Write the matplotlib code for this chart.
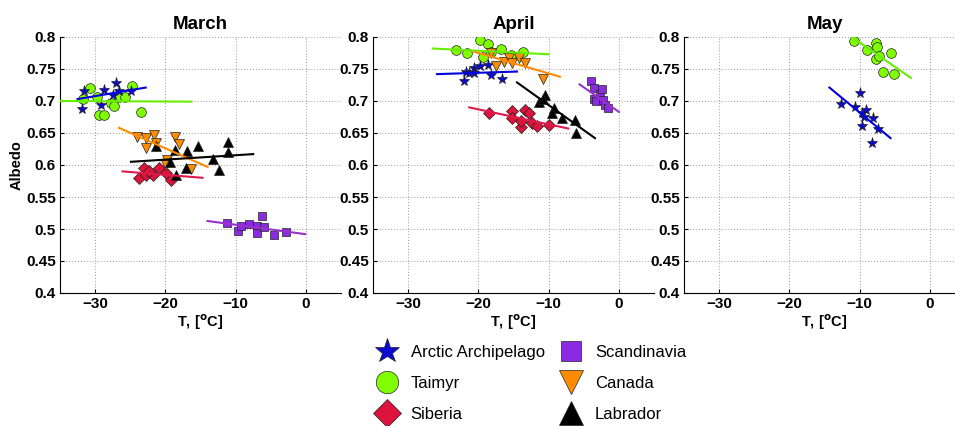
import matplotlib
matplotlib.use("Agg")
import matplotlib.pyplot as plt

plt.rcParams['font.family'] = ['Liberation Sans', 'DejaVu Sans']
plt.rcParams['font.weight'] = 'bold'

# ---- March ----
mar_arctic_t = [-31.8, -31.6, -29.1, -28.7, -27.5, -27.0, -26.6, -24.9]
mar_arctic_a = [0.688, 0.715, 0.694, 0.717, 0.709, 0.728, 0.716, 0.715]
mar_arctic_fit_t = [-32.5, -22.8]
mar_arctic_fit_a = [0.703, 0.721]

mar_taimyr_t = [-31.7, -30.8, -29.8, -29.4, -28.7, -27.8, -27.3, -26.6, -25.7, -24.8, -23.5]
mar_taimyr_a = [0.703, 0.720, 0.707, 0.678, 0.678, 0.697, 0.692, 0.706, 0.707, 0.724, 0.683]
mar_taimyr_fit_t = [-35.0, -16.3]
mar_taimyr_fit_a = [0.700, 0.699]

mar_siberia_t = [-23.7, -23.1, -22.8, -21.8, -20.9, -19.9, -19.2, -22.3]
mar_siberia_a = [0.579, 0.595, 0.584, 0.584, 0.595, 0.587, 0.577, 0.590]
mar_siberia_fit_t = [-26.1, -14.7]
mar_siberia_fit_a = [0.590, 0.580]

mar_scand_t = [-11.2, -9.6, -9.3, -8.1, -7.0, -7.0, -6.3, -6.0, -4.5, -2.9]
mar_scand_a = [0.510, 0.497, 0.504, 0.508, 0.504, 0.493, 0.521, 0.503, 0.490, 0.496]
mar_scand_fit_t = [-14.0, -0.1]
mar_scand_fit_a = [0.5125, 0.492]

mar_canada_t = [-24.0, -22.8, -22.8, -21.6, -21.3, -18.7, -18.0, -19.7, -19.9, -16.3]
mar_canada_a = [0.644, 0.642, 0.626, 0.647, 0.634, 0.644, 0.633, 0.608, 0.600, 0.594]
mar_canada_fit_t = [-26.6, -14.0]
mar_canada_fit_a = [0.658, 0.597]

mar_labrador_t = [-21.4, -18.7, -19.3, -16.9, -15.3, -17.1, -18.5, -13.2, -12.3, -11.1, -11.1]
mar_labrador_a = [0.629, 0.623, 0.604, 0.622, 0.630, 0.595, 0.584, 0.609, 0.592, 0.636, 0.621]
mar_labrador_fit_t = [-24.9, -7.5]
mar_labrador_fit_a = [0.605, 0.617]

# ---- April ----
apr_arctic_t = [-22.1, -21.8, -21.3, -20.6, -20.6, -19.7, -18.6, -18.2, -16.7]
apr_arctic_a = [0.731, 0.746, 0.743, 0.751, 0.743, 0.755, 0.757, 0.741, 0.735]
apr_arctic_fit_t = [-25.9, -14.5]
apr_arctic_fit_a = [0.742, 0.746]

apr_taimyr_t = [-23.2, -21.6, -19.7, -18.7, -19.3, -18.2, -16.8, -15.4, -13.7]
apr_taimyr_a = [0.779, 0.775, 0.796, 0.789, 0.769, 0.776, 0.781, 0.772, 0.777]
apr_taimyr_fit_t = [-26.5, -10.0]
apr_taimyr_fit_a = [0.782, 0.773]

apr_siberia_t = [-18.5, -15.2, -15.2, -13.9, -14.0, -13.3, -12.8, -12.3, -11.6, -10.0]
apr_siberia_a = [0.681, 0.684, 0.673, 0.660, 0.668, 0.686, 0.681, 0.665, 0.661, 0.662]
apr_siberia_fit_t = [-21.3, -7.2]
apr_siberia_fit_a = [0.690, 0.657]

apr_scand_t = [-4.0, -3.6, -3.6, -2.7, -2.4, -3.2, -2.2, -2.0, -1.6]
apr_scand_a = [0.732, 0.721, 0.703, 0.711, 0.719, 0.700, 0.702, 0.694, 0.689]
apr_scand_fit_t = [-5.6, 0.0]
apr_scand_fit_a = [0.726, 0.683]

apr_canada_t = [-18.2, -17.5, -16.4, -15.7, -15.2, -14.2, -13.3, -10.8]
apr_canada_a = [0.775, 0.754, 0.761, 0.767, 0.759, 0.767, 0.759, 0.734]
apr_canada_fit_t = [-20.6, -8.4]
apr_canada_fit_a = [0.777, 0.738]

apr_labrador_t = [-11.4, -10.5, -10.8, -9.3, -9.5, -8.1, -6.2, -6.1]
apr_labrador_a = [0.699, 0.709, 0.703, 0.689, 0.681, 0.673, 0.670, 0.650]
apr_labrador_fit_t = [-14.5, -3.4]
apr_labrador_fit_a = [0.729, 0.642]

# ---- May ----
may_arctic_t = [-12.7, -10.6, -9.9, -9.7, -9.1, -9.4, -9.7, -8.1, -7.4, -8.2]
may_arctic_a = [0.695, 0.690, 0.713, 0.681, 0.686, 0.675, 0.661, 0.673, 0.657, 0.634]
may_arctic_fit_t = [-14.3, -5.6]
may_arctic_fit_a = [0.721, 0.642]

may_taimyr_t = [-10.8, -8.9, -7.7, -7.5, -7.7, -7.2, -5.6, -6.7, -5.1]
may_taimyr_a = [0.793, 0.780, 0.791, 0.785, 0.765, 0.770, 0.775, 0.746, 0.742]
may_taimyr_fit_t = [-11.1, -2.7]
may_taimyr_fit_a = [0.800, 0.736]

months = ['March', 'April', 'May']
regions = ['Arctic Archipelago', 'Taimyr', 'Siberia', 'Scandinavia', 'Canada', 'Labrador']
x_ticks = [-30, -20, -10, 0]
y_ticks = [0.4, 0.45, 0.5, 0.55, 0.6, 0.65, 0.7, 0.75, 0.8]
y_tick_labels = ['0.4', '0.45', '0.5', '0.55', '0.6', '0.65', '0.7', '0.75', '0.8']

# marker style per region: marker, face, size, line colour
styles = {
    'Arctic Archipelago': ('*', '#0a0ad0', 8, '#0000dd'),
    'Taimyr': ('o', '#7fff00', 7, '#66ee00'),
    'Siberia': ('D', '#dc143c', 6.3, '#dd1a4a'),
    'Scandinavia': ('s', '#8a2be2', 6, '#9932cc'),
    'Canada': ('v', '#ff8c00', 7.5, '#ff8c00'),
    'Labrador': ('^', '#000000', 7.5, '#000000'),
}

month_data = {
    'March': [
        ('Taimyr', mar_taimyr_t, mar_taimyr_a, mar_taimyr_fit_t, mar_taimyr_fit_a),
        ('Arctic Archipelago', mar_arctic_t, mar_arctic_a, mar_arctic_fit_t, mar_arctic_fit_a),
        ('Siberia', mar_siberia_t, mar_siberia_a, mar_siberia_fit_t, mar_siberia_fit_a),
        ('Canada', mar_canada_t, mar_canada_a, mar_canada_fit_t, mar_canada_fit_a),
        ('Labrador', mar_labrador_t, mar_labrador_a, mar_labrador_fit_t, mar_labrador_fit_a),
        ('Scandinavia', mar_scand_t, mar_scand_a, mar_scand_fit_t, mar_scand_fit_a),
    ],
    'April': [
        ('Taimyr', apr_taimyr_t, apr_taimyr_a, apr_taimyr_fit_t, apr_taimyr_fit_a),
        ('Arctic Archipelago', apr_arctic_t, apr_arctic_a, apr_arctic_fit_t, apr_arctic_fit_a),
        ('Siberia', apr_siberia_t, apr_siberia_a, apr_siberia_fit_t, apr_siberia_fit_a),
        ('Canada', apr_canada_t, apr_canada_a, apr_canada_fit_t, apr_canada_fit_a),
        ('Labrador', apr_labrador_t, apr_labrador_a, apr_labrador_fit_t, apr_labrador_fit_a),
        ('Scandinavia', apr_scand_t, apr_scand_a, apr_scand_fit_t, apr_scand_fit_a),
    ],
    'May': [
        ('Taimyr', may_taimyr_t, may_taimyr_a, may_taimyr_fit_t, may_taimyr_fit_a),
        ('Arctic Archipelago', may_arctic_t, may_arctic_a, may_arctic_fit_t, may_arctic_fit_a),
    ],
}

fig = plt.figure(figsize=(9.55, 4.26), dpi=100)
lefts = [60 / 955, 373 / 955, 684 / 955]

handles = {}
for month, left in zip(months, lefts):
    ax = fig.add_axes([left, 1 - 293 / 426, 281 / 955, 256 / 426])
    for name, t, a, ft, fa in month_data[month]:
        marker, face, size, lc = styles[name]
        h, = ax.plot(t, a, linestyle='none', marker=marker, markersize=size,
                     markerfacecolor=face, markeredgecolor='#222222',
                     markeredgewidth=0.5, label=name, zorder=3)
        ax.plot(ft, fa, color=lc, linewidth=1.5, zorder=4)
        handles.setdefault(name, h)

    ax.set_xlim(-35, 5)
    ax.set_ylim(0.4, 0.8)
    ax.set_xticks(x_ticks)
    ax.set_yticks(y_ticks)
    ax.set_yticklabels(y_tick_labels)
    ax.grid(True, color='#999999', linestyle=(0, (1, 2)), linewidth=0.7)
    ax.set_axisbelow(True)
    for side in ['top', 'right']:
        ax.spines[side].set_visible(False)
    ax.tick_params(direction='in', length=3, width=0.8, labelsize=11, pad=3)
    ax.set_title(month, fontsize=13.5, fontweight='bold', pad=6)
    ax.set_xlabel('T, [$^{\\mathbf{o}}$C]', fontsize=10.5, fontweight='bold', labelpad=1)
    if month == 'March':
        ax.set_ylabel('Albedo', fontsize=10.5, fontweight='bold', labelpad=2)

leg = fig.legend([handles[r] for r in regions], regions, ncol=2,
                 loc='upper left', bbox_to_anchor=(374 / 955, 1 - 345 / 426),
                 frameon=True, prop={'size': 12, 'weight': 'normal'},
                 markerscale=2.3,
                 handlelength=1.5, handletextpad=0.7, columnspacing=0.8,
                 labelspacing=0.95, borderpad=0.0, borderaxespad=0.0)
leg.get_frame().set_edgecolor('none')
leg.get_frame().set_facecolor('white')

fig.savefig('out.png', dpi=100)
